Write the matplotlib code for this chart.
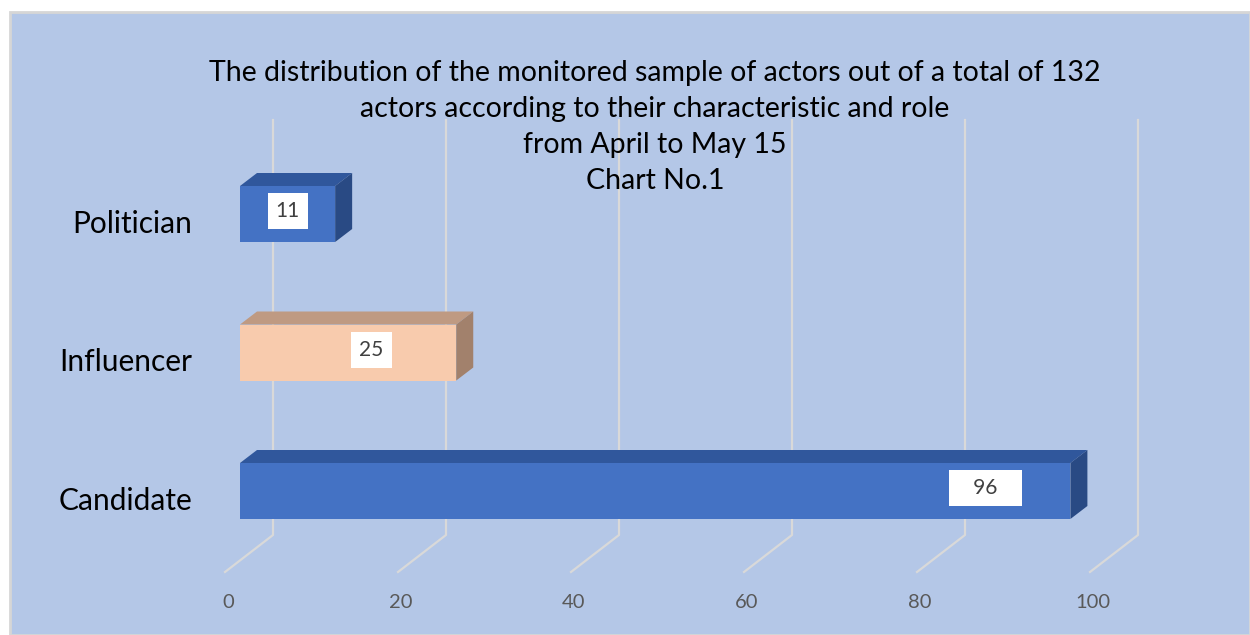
import matplotlib.pyplot as plt
from matplotlib.patches import Polygon, Rectangle

plt.rcParams['font.family'] = ['Lato', 'DejaVu Sans']

categories = ["Candidate", "Influencer", "Politician"]
values = [96, 25, 11]
front_colors = ["#4472C4", "#F8CBAD", "#4472C4"]
top_colors = ["#30579C", "#BF9A82", "#30579C"]
side_colors = ["#294A84", "#A2816C", "#294A84"]
ticks = [0, 20, 40, 60, 80, 100]
title = ("The distribution of the monitored sample of actors out of a total of 132\n"
         "actors according to their characteristic and role\n"
         "from April to May 15\n"
         "Chart No.1")

W, H = 1250, 635
fig = plt.figure(figsize=(W / 100, H / 100), dpi=100)
fig.patch.set_facecolor("white")
# blue chart panel with a thin grey frame
fig.patches.append(Rectangle((10 / W, 0), 1 - 10 / W, 1 - 12 / H, transform=fig.transFigure,
                             facecolor="#B4C7E7", edgecolor="#D6D6D6", lw=2, zorder=-10))

ax = fig.add_axes([0, 0, 1, 1])
ax.set_facecolor("none")
# pixel geometry: value 0 at x=240px, 8.65 px per unit; categories 138.5 px apart
px_x, x0 = 8.65, 240
px_y, y0 = 138.5, 491
ax.set_xlim(-x0 / px_x, (W - x0) / px_x)
ax.set_ylim((y0 - H) / px_y, y0 / px_y)
ax.axis("off")

# perspective depth offsets (data units)
bar_dx, bar_dy = 17 / px_x, 13 / px_y
bar_h = 56 / px_y

# gridlines: floor diagonal then vertical wall line
g_front = (-15 / px_x, (y0 - 572) / px_y)
g_back = (33 / px_x, (y0 - 535) / px_y)
g_top = (y0 - 120) / px_y
for t in ticks:
    ax.plot([t + g_front[0], t + g_back[0], t + g_back[0]],
            [g_front[1], g_back[1], g_top], color="#D9D9D9", lw=1.6, zorder=1)
    ax.text(t - 1.4, (y0 - 603) / px_y, str(t), ha="center", va="center",
            fontsize=14.5, color="#595959")

for i, (cat, v) in enumerate(zip(categories, values)):
    yb, yt = i - bar_h / 2, i + bar_h / 2
    ax.barh(i, v, height=bar_h, left=0, color=front_colors[i], zorder=3)
    ax.add_patch(Polygon([(0, yt), (v, yt), (v + bar_dx, yt + bar_dy), (bar_dx, yt + bar_dy)],
                         closed=True, facecolor=top_colors[i], zorder=3))
    ax.add_patch(Polygon([(v, yb), (v, yt), (v + bar_dx, yt + bar_dy), (v + bar_dx, yb + bar_dy)],
                         closed=True, facecolor=side_colors[i], zorder=3))
    lx = max(v - 9.8, v / 2)
    label = f"   {v}   " if v > 50 else str(v)
    ax.text(lx, i + 0.02, label, ha="center", va="center", fontsize=15, color="#404040",
            zorder=4, bbox=dict(boxstyle="square,pad=0.38", facecolor="white", edgecolor="none"))
    ax.text(-5.5, i - 0.07, cat, ha="right", va="center", fontsize=21.5, color="black")

fig.text(655 / W, 1 - 127 / H, title, ha="center", va="center", fontsize=20.5,
         color="black", linespacing=1.47)

fig.savefig("out.png", dpi=100)
